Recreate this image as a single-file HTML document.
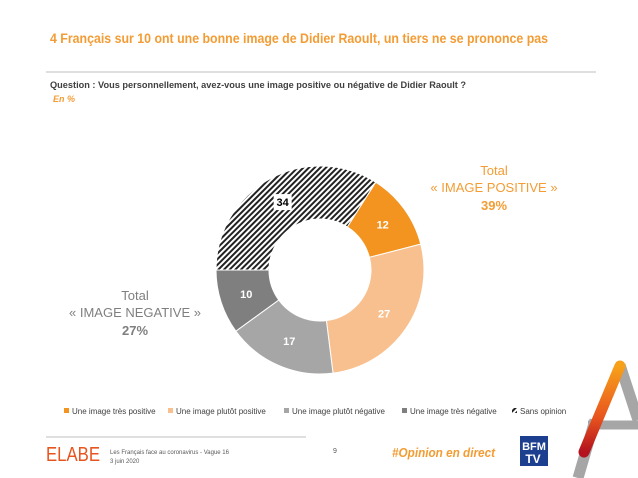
<!DOCTYPE html>
<html><head><meta charset="utf-8"><style>
body{margin:0;background:#fff;width:638px;height:478px;overflow:hidden}
svg{display:block;font-family:"Liberation Sans",sans-serif}
</style></head><body>
<svg width="638" height="478" viewBox="0 0 638 478">
<defs>
<pattern id="hatch" width="4" height="4" patternUnits="userSpaceOnUse" patternTransform="rotate(45)">
<rect width="4" height="4" fill="#fff"/><rect width="2" height="4" fill="#222"/>
</pattern>
<linearGradient id="ag" x1="0" y1="0" x2="0" y2="1"><stop offset="0" stop-color="#f7a11a"/><stop offset="0.6" stop-color="#e8541e"/><stop offset="1" stop-color="#b3121e"/></linearGradient>
</defs>
<text x="50" y="43" font-size="14" font-weight="bold" fill="#f39c34" textLength="498" lengthAdjust="spacingAndGlyphs">4 Français sur 10 ont une bonne image de Didier Raoult, un tiers ne se prononce pas</text>
<line x1="46" y1="72" x2="596" y2="72" stroke="#bfbfbf" stroke-width="1"/>
<text x="50" y="88" font-size="9.5" font-weight="bold" fill="#404040" textLength="416" lengthAdjust="spacingAndGlyphs">Question : Vous personnellement, avez-vous une image positive ou négative de Didier Raoult ?</text>
<text x="53" y="102" font-size="9" font-style="italic" font-weight="bold" fill="#f39c34">En %</text>
<g id="donut"></g>
<g fill="#f39c34" font-size="13" text-anchor="middle">
<text x="494" y="175">Total</text><text x="494" y="192">« IMAGE POSITIVE »</text><text x="494" y="210" font-weight="bold">39%</text></g>
<g fill="#7f7f7f" font-size="13" text-anchor="middle">
<text x="135" y="300">Total</text><text x="135" y="317">« IMAGE NEGATIVE »</text><text x="135" y="335" font-weight="bold">27%</text></g>
<g id="legend" font-size="8" fill="#404040"></g>
<line x1="46" y1="437" x2="306" y2="437" stroke="#bfbfbf"/>
<text x="46" y="461" font-size="20" fill="#e8541e" textLength="54" lengthAdjust="spacingAndGlyphs">ELABE</text>
<text x="110" y="454" font-size="6" fill="#595959">Les Français face au coronavirus - Vague 16</text>
<text x="110" y="463" font-size="6" fill="#595959">3 juin 2020</text>
<text x="333" y="453" font-size="7" fill="#595959">9</text>
<text x="392" y="457" font-size="13" font-style="italic" font-weight="bold" fill="#f39c34" textLength="103" lengthAdjust="spacingAndGlyphs">#Opinion en direct</text>
<g><rect x="520" y="436" width="28" height="30" fill="#1c3f8f"/>
<text x="534" y="450" font-size="11" font-weight="bold" fill="#fff" text-anchor="middle">BFM</text><text x="533" y="463" font-size="12" font-weight="bold" fill="#fff" text-anchor="middle">TV</text></g>
<g>
<line x1="620" y1="365" x2="638" y2="420" stroke="#a6a6a6" stroke-width="11"/>
<line x1="595" y1="420" x2="578" y2="478" stroke="#a6a6a6" stroke-width="11"/>
<line x1="588" y1="425" x2="638" y2="425" stroke="#a6a6a6" stroke-width="9"/>
<line x1="620" y1="366" x2="584" y2="452" stroke="url(#ag)" stroke-width="11" stroke-linecap="round"/>
</g>
</svg>
<script>
const categories=["Une image très positive","Une image plutôt positive","Une image plutôt négative","Une image très négative","Sans opinion"];
const values=[12,27,17,10,34];
const colors=["#f39320","#f8c08e","#a6a6a6","#7f7f7f","url(#hatch)"];
const labelColors=["#fff","#fff","#fff","#fff","#000"];
const NS="http://www.w3.org/2000/svg";
const cx=320,cy=270,R=104,r=51;
const total=values.reduce((a,b)=>a+b,0);
const startDeg=270-360*(values.slice(0,4).reduce((a,b)=>a+b,0))/total;
function pt(deg,rad){const a=(deg-90)*Math.PI/180;return [cx+rad*Math.cos(a),cy+rad*Math.sin(a)];}
const g=document.getElementById('donut');
let acc=startDeg;
values.forEach((v,i)=>{
 const a0=acc,a1=acc+360*v/total;acc=a1;
 const big=(a1-a0)>180?1:0;
 const p0=pt(a0,R),p1=pt(a1,R),q1=pt(a1,r),q0=pt(a0,r);
 const p=document.createElementNS(NS,'path');
 p.setAttribute('d',`M${p0[0]},${p0[1]}A${R},${R} 0 ${big} 1 ${p1[0]},${p1[1]}L${q1[0]},${q1[1]}A${r},${r} 0 ${big} 0 ${q0[0]},${q0[1]}Z`);
 p.setAttribute('fill',colors[i]);p.setAttribute('stroke','#fff');p.setAttribute('stroke-width','1');
 
 
 g.appendChild(p);
 const m=pt((a0+a1)/2,(R+r)/2);
 if(i===4){const b=document.createElementNS(NS,'rect');b.setAttribute('x',m[0]-9);b.setAttribute('y',m[1]-8);b.setAttribute('width',18);b.setAttribute('height',16);b.setAttribute('fill','#fff');
 
 
 g.appendChild(b);}
 const t=document.createElementNS(NS,'text');
 t.setAttribute('x',m[0]);t.setAttribute('y',m[1]+4);t.setAttribute('text-anchor','middle');t.setAttribute('font-size','11');t.setAttribute('font-weight','bold');t.setAttribute('fill',labelColors[i]);
 t.textContent=v;
 
 
 g.appendChild(t);
});
const lg=document.getElementById('legend');
const lx=[64,168,284,402,512];
categories.forEach((c,i)=>{
 const s=document.createElementNS(NS,'rect');
 s.setAttribute('x',lx[i]);s.setAttribute('y',408);s.setAttribute('width',5);s.setAttribute('height',5);s.setAttribute('fill',colors[i]);
 
 
 lg.appendChild(s);
 const t=document.createElementNS(NS,'text');
 t.setAttribute('x',lx[i]+8);t.setAttribute('y',414);t.textContent=c;
 
 
 lg.appendChild(t);
});
</script>
</body></html>
